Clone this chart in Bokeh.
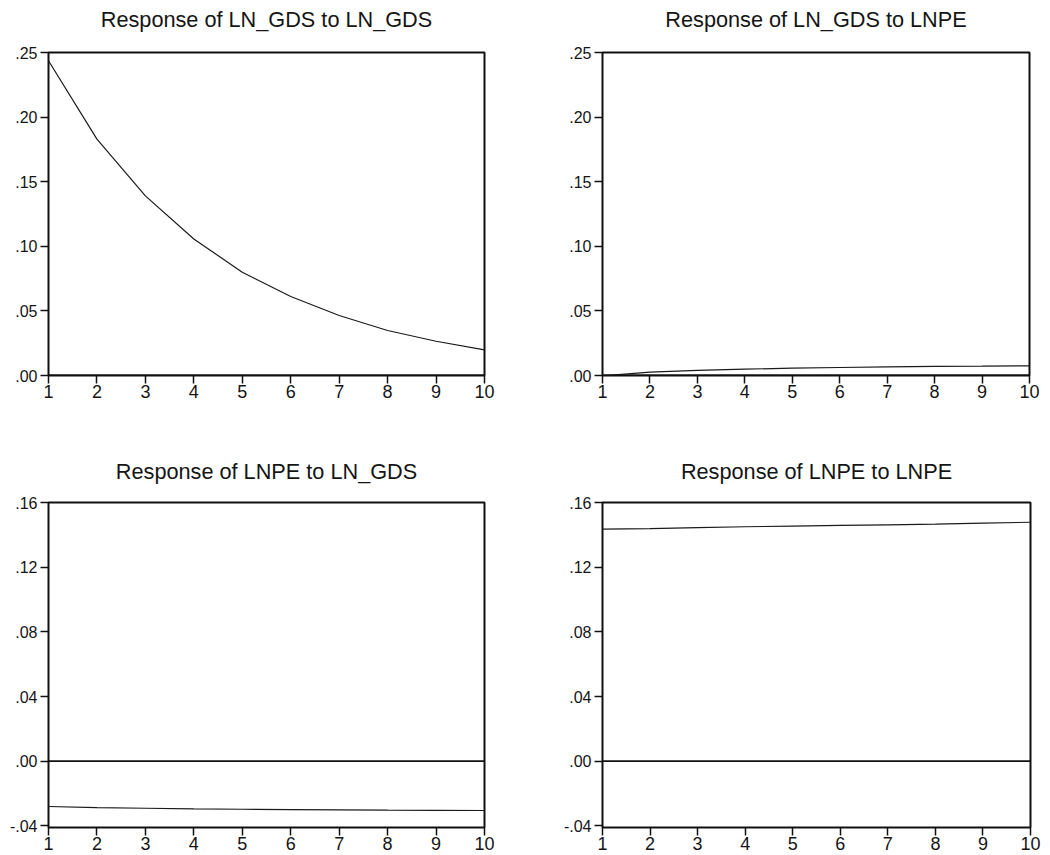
from bokeh.plotting import figure
from bokeh.layouts import column, row
from bokeh.models import FixedTicker, CustomJSTickFormatter, Range1d, Span, Title
from bokeh.embed import file_html
from bokeh.resources import INLINE

periods = [1, 2, 3, 4, 5, 6, 7, 8, 9, 10]
gds_to_gds = [0.2436, 0.183, 0.139, 0.1057, 0.0799, 0.0611, 0.0464, 0.0348, 0.0265, 0.0198]
gds_to_lnpe = [-0.0003, 0.0026, 0.0039, 0.0049, 0.0057, 0.0062, 0.0067, 0.0070, 0.0072, 0.0075]
lnpe_to_gds = [-0.0280, -0.0287, -0.0291, -0.0295, -0.0297, -0.0299, -0.0301, -0.0303, -0.0304, -0.0305]
lnpe_to_lnpe = [0.1435, 0.1439, 0.1445, 0.1450, 0.1454, 0.1458, 0.1462, 0.1466, 0.1472, 0.1478]

titles = ["Response of LN_GDS to LN_GDS", "Response of LN_GDS to LNPE",
          "Response of LNPE to LN_GDS", "Response of LNPE to LNPE"]
yticks_top = [0.0, 0.05, 0.10, 0.15, 0.20, 0.25]
yticks_bottom = [-0.04, 0.0, 0.04, 0.08, 0.12, 0.16]

FONT = "Liberation Sans"

fmt = CustomJSTickFormatter(code="""
var s = tick.toFixed(2);
return s.replace(/^(-?)0\\./, '$1.');
""")


def make(title, ys, yr, yticks, fw, fh, bl, br, bt, bb, gap):
    p = figure(frame_width=fw, frame_height=fh, output_backend="svg", toolbar_location=None,
               title=None, x_range=Range1d(1, 10), y_range=Range1d(*yr),
               min_border_left=bl, min_border_right=br, min_border_top=bt, min_border_bottom=bb)
    # spacer between title and frame
    p.add_layout(Title(text=" ", text_font_size="2px", standoff=gap), "above")
    p.add_layout(Title(text=title, align="center", text_font=FONT, text_font_size="21.7px",
                       text_font_style="normal", text_color="#151515", standoff=4), "above")
    p.xgrid.visible = False
    p.ygrid.visible = False
    p.outline_line_color = "#111111"
    p.outline_line_width = 2
    p.outline_line_alpha = 1
    for ax in (p.xaxis[0], p.yaxis[0]):
        ax.axis_line_color = None
        ax.major_tick_line_color = "#111111"
        ax.major_tick_line_width = 1.5
        ax.major_tick_out = 8
        ax.major_tick_in = 0
        ax.minor_tick_line_color = None
        ax.major_label_text_font = FONT
        ax.major_label_text_font_style = "normal"
        ax.major_label_text_color = "#151515"
    p.xaxis.major_label_text_font_size = "18px"
    p.xaxis.major_label_standoff = 1
    p.yaxis.major_label_text_font_size = "16px"
    p.yaxis.major_label_standoff = 3
    p.xaxis.ticker = FixedTicker(ticks=periods)
    p.yaxis.ticker = FixedTicker(ticks=yticks)
    p.yaxis.formatter = fmt
    p.add_layout(Span(location=0, dimension="width", line_color="#111111", line_width=1.8))
    p.line(periods, ys, line_color="#1a1a1a", line_width=1.2)
    return p


p1 = make(titles[0], gds_to_gds, (0, 0.25), yticks_top, 436, 323, 48, 60, 52, 40, 15)
p2 = make(titles[1], gds_to_lnpe, (0, 0.25), yticks_top, 427, 323, 58, 14, 52, 40, 15)
p3 = make(titles[2], lnpe_to_gds, (-0.041, 0.16), yticks_bottom, 436, 325, 48, 60, 87, 26, 13)
p4 = make(titles[3], lnpe_to_lnpe, (-0.041, 0.16), yticks_bottom, 428, 325, 58, 13, 87, 26, 13)

layout = column(row(p1, p2), row(p3, p4))

open("out.html", "w").write(file_html(layout, INLINE))
